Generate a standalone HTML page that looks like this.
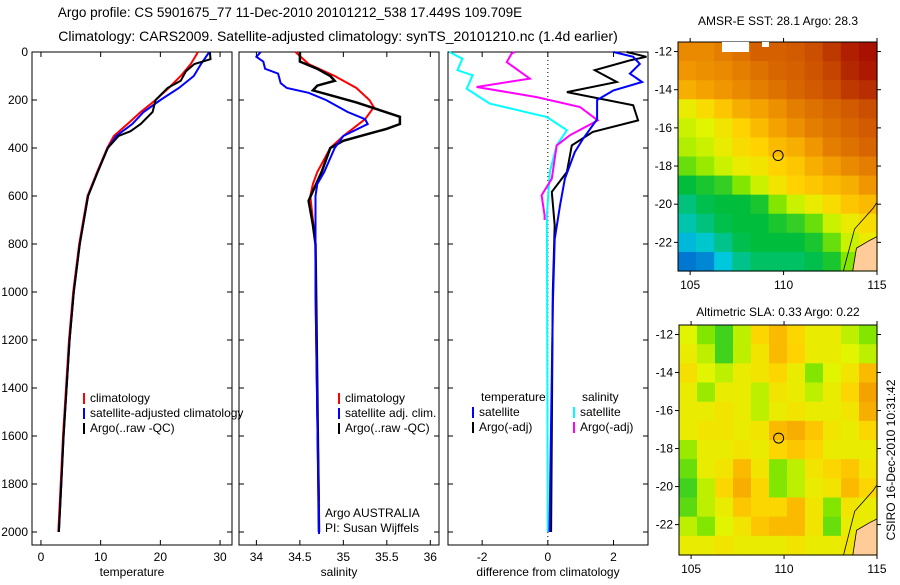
<!DOCTYPE html>
<html><head><meta charset="utf-8"><style>
body{margin:0;background:#fff;width:900px;height:580px;overflow:hidden}
svg{font-family:"Liberation Sans",sans-serif}
</style></head><body>
<svg id="fig" width="900" height="580" xmlns="http://www.w3.org/2000/svg">
<text x="290" y="17" font-size="13.5" text-anchor="middle">Argo profile: CS 5901675_77 11-Dec-2010 20101212_538 17.449S 109.709E</text>
<text x="338" y="41" font-size="14" text-anchor="middle">Climatology: CARS2009. Satellite-adjusted climatology: synTS_20101210.nc (1.4d earlier)</text>
<text x="778" y="25" font-size="12" text-anchor="middle">AMSR-E SST: 28.1 Argo: 28.3</text>
<text x="778" y="316" font-size="12" text-anchor="middle">Altimetric SLA: 0.33 Argo: 0.22</text>
<text transform="translate(895,460) rotate(-90)" font-size="12" text-anchor="middle">CSIRO 16-Dec-2010 10:31:42</text>
<g id="plots"></g>
</svg>
<script>
// ---- profile data (depth in dbar) ----
const tClimD=[0,50,100,150,200,250,300,350,400,500,600,800,1000,1200,1400,1600,1800,2000];
const tClimV=[26.3,25.1,23.4,21.4,19.2,16.7,14.5,12.2,11.1,9.4,7.8,6.4,5.4,4.7,4.2,3.7,3.3,2.9];
const tSatD=[0,50,100,150,200,250,300,350,400,500,600,800,1000,1200,1400,1600,1800,2000];
const tSatV=[28.2,26.8,25.6,23.1,20.0,17.2,15.3,12.6,11.2,9.5,7.9,6.5,5.5,4.8,4.3,3.8,3.4,3.0];
const tArgoD=[0,30,50,80,120,150,200,250,300,330,350,400,500,600,800,1000,1200,1400,1600,1800,2000];
const tArgoV=[28.3,28.4,25.7,24.3,23.4,21.2,19.2,18.7,16.7,15.0,13.0,11.2,9.5,7.9,6.5,5.5,4.8,4.3,3.8,3.4,3.0];
const sClimD=[0,50,100,150,200,230,280,350,400,500,550,600,700,800,1000,1500,1870];
const sClimV=[34.45,34.6,34.9,35.15,35.3,35.35,35.25,35.0,34.85,34.7,34.65,34.62,34.65,34.68,34.68,34.7,34.72];
const sSatD=[0,20,40,70,90,130,150,170,200,250,280,300,350,400,500,550,600,800,1000,2000];
const sSatV=[34.05,34.0,34.08,34.1,34.25,34.28,34.35,34.6,34.8,35.05,35.25,35.28,35.0,34.9,34.78,34.7,34.68,34.68,34.68,34.72];
const sArgoD=[0,40,70,100,120,140,160,180,210,240,270,300,320,340,370,400,500,580,620,680,720,800,2000];
const sArgoV=[34.5,34.5,34.7,34.85,34.9,34.7,34.65,34.85,35.15,35.4,35.65,35.65,35.5,35.3,35.0,34.85,34.75,34.65,34.6,34.63,34.65,34.68,34.72];
const dTSatD=[0,20,50,90,125,160,200,280,362,417,528,640,780,1060,2000];
const dTSatV=[2.0,2.6,2.8,2.5,2.87,2.0,1.5,1.5,1.07,0.82,0.52,0.37,0.21,0.15,0.05];
const dTArgoD=[0,20,35,76,125,167,222,285,333,389,500,583,722,1000,2000];
const dTArgoV=[2.4,3.0,2.5,1.43,2.1,0.58,2.6,2.75,1.37,0.73,0.58,0.12,0.21,0.15,0.1];
const dSSatD=[0,28,76,97,153,215,271,326,389,500,681,2000];
const dSSatV=[-3.0,-2.6,-2.75,-2.29,-2.47,-1.77,-0.03,0.58,0.27,0.06,-0.03,0];
const dSArgoD=[0,6,42,111,146,188,229,285,347,389,528,597,681,700];
const dSArgoV=[-1.0,-1.1,-1.25,-0.55,-2.17,-0.34,0.98,1.52,0.67,0.27,0.12,-0.19,-0.1,-0.1];
const depthTicks=[0,200,400,600,800,1000,1200,1400,1600,1800,2000];
const tTicks=[0,10,20,30], sTicks=[34,34.5,35,35.5,36], dTicks=[-2,0,2];
const sTickLabels=["34","34.5","35","35.5","36"];
// ---- map data (colormap index 0..1) rows lat -12..-23, cols lon 104.5..115 ----
const sstGrid=[
[.78,.78,.8,.82,.85,.85,.86,.88,.92,.96,.98],
[.76,.77,.78,.8,.82,.84,.85,.87,.9,.95,.97],
[.72,.74,.76,.78,.8,.82,.84,.86,.88,.92,.94],
[.6,.64,.68,.72,.74,.77,.8,.82,.84,.86,.88],
[.56,.58,.62,.66,.7,.74,.77,.8,.82,.84,.86],
[.54,.56,.6,.64,.66,.7,.72,.76,.8,.82,.84],
[.48,.52,.56,.6,.62,.66,.68,.72,.75,.78,.8],
[.4,.42,.44,.5,.56,.62,.66,.68,.7,.72,.76],
[.32,.38,.4,.4,.42,.5,.56,.6,.64,.68,.7],
[.26,.32,.38,.4,.4,.42,.44,.48,.56,.6,.64],
[.18,.22,.3,.38,.4,.4,.4,.42,.48,.56,.6],
[.1,.12,.2,.3,.35,.35,.35,.38,.42,.5,.55]];
const slaGrid=[
[.58,.5,.45,.55,.65,.7,.65,.6,.6,.55,.5],
[.6,.55,.45,.55,.62,.7,.66,.6,.6,.58,.55],
[.63,.58,.55,.6,.62,.65,.6,.5,.58,.62,.7],
[.6,.52,.6,.6,.55,.62,.6,.55,.6,.65,.74],
[.6,.6,.62,.6,.55,.6,.62,.6,.6,.62,.72],
[.6,.62,.62,.6,.62,.7,.72,.68,.62,.6,.65],
[.52,.6,.6,.62,.6,.65,.68,.65,.6,.6,.6],
[.48,.6,.62,.7,.62,.5,.55,.62,.65,.68,.62],
[.45,.55,.65,.72,.65,.5,.55,.6,.62,.7,.65],
[.47,.55,.6,.68,.65,.65,.7,.62,.5,.62,.6],
[.55,.5,.58,.62,.68,.7,.7,.62,.48,.6,.6],
[.6,.6,.62,.6,.6,.6,.62,.6,.6,.62,.6]];
const lonTicks=[105,110,115], latTicks=[-12,-14,-16,-18,-20,-22];

const NS="http://www.w3.org/2000/svg", G=document.getElementById('plots');
function mk(t,a,p){const e=document.createElementNS(NS,t);for(const k in a)e.setAttribute(k,a[k]);(p||G).appendChild(e);return e;}
const yD=d=>52+d*0.24;
function panel(x0,x1,xmin,xmax,ticks,labels,title,name,ylabels){
  const fx=v=>x0+(v-xmin)/(xmax-xmin)*(x1-x0);
  const g=mk('g',{});
  
  
  const r=mk('rect',{x:x0,y:52,width:x1-x0,height:493,fill:'none',stroke:'#000','stroke-width':1},g);
  
  
  ticks.forEach((t,i)=>{const x=fx(t);
    mk('line',{x1:x,x2:x,y1:545,y2:540,stroke:'#000'},g);mk('line',{x1:x,x2:x,y1:52,y2:57,stroke:'#000'},g);
    const tx=mk('text',{x:x,y:561,'font-size':12,'text-anchor':'middle'},g);tx.textContent=labels[i];
    
    });
  depthTicks.forEach(d=>{const y=yD(d);
    mk('line',{x1:x0,x2:x0+5,y1:y,y2:y,stroke:'#000'},g);mk('line',{x1:x1,x2:x1-5,y1:y,y2:y,stroke:'#000'},g);
    if(ylabels){const tx=mk('text',{x:28,y:y+4,'font-size':12,'text-anchor':'end'},g);tx.textContent=d;
      
      }});
  const at=mk('text',{x:(x0+x1)/2,y:576,'font-size':12,'text-anchor':'middle'},g);at.textContent=title;
  
  
  return fx;
}
function line(fx,D,V,col,w,name){
  const p=D.map((d,i)=>fx(V[i]).toFixed(1)+','+yD(d).toFixed(1)).join(' ');
  const e=mk('polyline',{points:p,fill:'none',stroke:col,'stroke-width':w});
  
  
}
function legend(x,y,items){
  items.forEach((it,i)=>{const yy=y+i*15;
    mk('line',{x1:x,x2:x,y1:yy-9,y2:yy+2,stroke:it[1],'stroke-width':2});
    const t=mk('text',{x:x+6,y:yy,'font-size':12},G);t.textContent=it[0];
    
    });
}
const fT=panel(32,232,-1.5,32,tTicks,tTicks.map(String),'temperature','temperature-panel',true);
const fS=panel(239,439,33.8,36.1,sTicks,sTickLabels,'salinity','salinity-panel',false);
const fD=panel(448,648,-3.04,3.05,dTicks,dTicks.map(String),'difference from climatology','difference-panel',false);
mk('line',{x1:fD(0),x2:fD(0),y1:52,y2:545,stroke:'#000','stroke-dasharray':'1,3'});
line(fT,tClimD,tClimV,'#f00',2,'temp-climatology-line');
line(fT,tSatD,tSatV,'#00f',2,'temp-satellite-line');
line(fT,tArgoD,tArgoV,'#000',2,'temp-argo-line');
line(fS,sClimD,sClimV,'#f00',2,'sal-climatology-line');
line(fS,sArgoD,sArgoV,'#000',2.5,'sal-argo-line');
line(fS,sSatD,sSatV,'#00f',2,'sal-satellite-line');
line(fD,dSSatD,dSSatV,'#0ff',2,'diff-sal-satellite-line');
line(fD,dSArgoD,dSArgoV,'#f0f',2,'diff-sal-argo-line');
line(fD,dTArgoD,dTArgoV,'#000',2,'diff-temp-argo-line');
line(fD,dTSatD,dTSatV,'#00f',2,'diff-temp-satellite-line');
legend(84,402,[['climatology','#f00'],['satellite-adjusted climatology','#00f'],['Argo(..raw -QC)','#000']]);
legend(339,402,[['climatology','#f00'],['satellite adj. clim.','#00f'],['Argo(..raw -QC)','#000']]);
legend(319,517,[['Argo AUSTRALIA','#00f'],['PI: Susan Wijffels','#00f']]);
[['temperature',481,401],['salinity',582,401]].forEach(a=>{const t=mk('text',{x:a[1],y:a[2],'font-size':12});t.textContent=a[0];
  
  });
legend(473,416,[['satellite','#00f'],['Argo(-adj)','#000']]);
legend(574,416,[['satellite','#0ff'],['Argo(-adj)','#f0f']]);

// colormap
const cstops=[[0,[0,40,200]],[.2,[0,200,220]],[.4,[0,190,60]],[.5,[130,230,0]],[.58,[225,245,0]],[.66,[255,210,0]],[.76,[240,150,0]],[.86,[210,90,0]],[.95,[180,40,0]],[1,[160,0,0]]];
function cmap(v){for(let i=1;i<cstops.length;i++){if(v<=cstops[i][0]){const a=cstops[i-1],b=cstops[i],t=(v-a[0])/(b[0]-a[0]);
  return 'rgb('+a[1].map((c,k)=>Math.round(c+(b[1][k]-c)*t)).join(',')+')';}}return 'rgb(160,0,0)';}
function map(grid,x0,x1,y0,y1,latTop,latBot,name,circleFill){
  const g=mk('g',{});
  
  
  const lx=v=>x0+(v-104.35)/(115-104.35)*(x1-x0);
  const ly=v=>y0+(v-latTop)/(latBot-latTop)*(y1-y0);
  const nr=grid.length,nc=grid[0].length,cw=(x1-x0)/nc,ch=(y1-y0)/nr;
  grid.forEach((row,r)=>row.forEach((v,c)=>{
    const cell=mk('rect',{x:x0+c*cw,y:y0+r*ch,width:cw+0.6,height:ch+0.6,fill:cmap(v)},g);
    
    }));
  const land=mk('path',{d:`M${lx(113.7)},${y1} L${lx(113.9)},${ly(-22.3)} L${lx(114.6)},${ly(-21.9)} L${x1},${ly(-21.7)} L${x1},${y1}Z`,fill:'#fc9',stroke:'#000','stroke-width':0.8},g);
  
  
  mk('polyline',{points:`${lx(113.2)},${y1} ${lx(113.8)},${ly(-21.3)} ${lx(114.8)},${ly(-20.2)} ${x1},${ly(-19.9)}`,fill:'none',stroke:'#000','stroke-width':0.8},g);
  mk('rect',{x:x0,y:y0,width:x1-x0,height:y1-y0,fill:'none',stroke:'#000'},g);
  const c=mk('circle',{cx:lx(109.709),cy:ly(-17.449),r:5,fill:circleFill,stroke:'#000'},g);
  
  
  lonTicks.forEach(v=>{const x=lx(v);mk('line',{x1:x,x2:x,y1:y0,y2:y0-4,stroke:'#000'},g);mk('line',{x1:x,x2:x,y1:y1,y2:y1+4,stroke:'#000'},g);
    const t=mk('text',{x:x,y:y1+18,'font-size':12,'text-anchor':'middle'},g);t.textContent=v;
    
    });
  latTicks.forEach(v=>{const y=ly(v);mk('line',{x1:x0,x2:x0-4,y1:y,y2:y,stroke:'#000'},g);mk('line',{x1:x1,x2:x1+4,y1:y,y2:y,stroke:'#000'},g);
    const t=mk('text',{x:x0-6,y:y+4,'font-size':12,'text-anchor':'end'},g);t.textContent=v;
    
    });
  return lx;
}
map(sstGrid,678,877,42,271,-11.5,-23.5,'sst-map','none');
const ws=mk('path',{d:'M722,42 H749 V52 H722 Z M762,42 H769 V47 H762Z',fill:'#fff'});


map(slaGrid,679,877,325,555,-11.5,-23.6,'sla-map','none');
</script>
</body></html>
